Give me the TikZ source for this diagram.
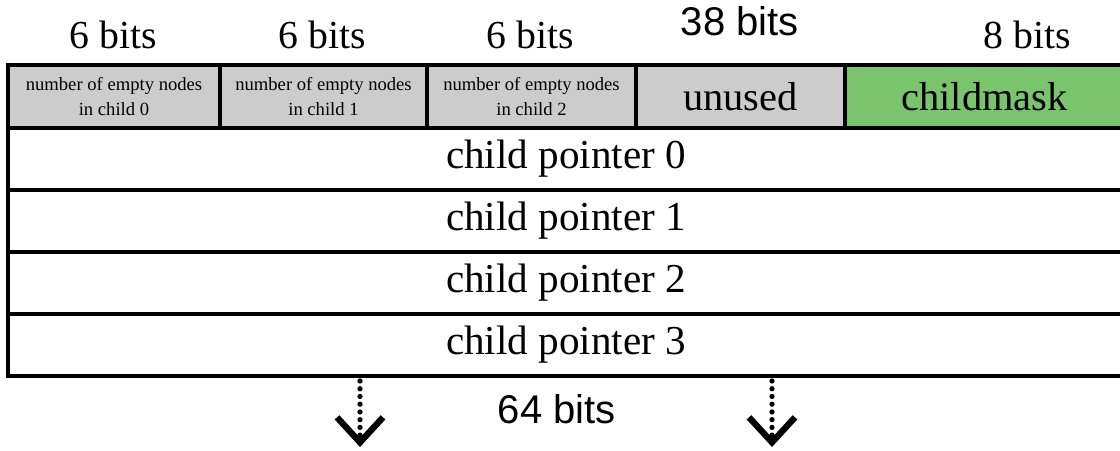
\documentclass[tikz,border=0pt]{standalone}
\usepackage{fontspec}
\setmainfont{Liberation Serif}
\newfontfamily\labelsans{Liberation Sans}
\usetikzlibrary{positioning, arrows.meta}

\definecolor{cellgray}{RGB}{204,204,204}
\definecolor{maskgreen}{RGB}{122,196,110}

\begin{document}
\begin{tikzpicture}[x=0.1mm, y=-0.1mm,
            hdrcell/.style = {shape=rectangle, draw, line width=1.1pt,
                fill=cellgray, inner sep=0pt, outer sep=0pt, align=center,
                minimum height=6.3mm, font=\fontsize{11.5}{13}\selectfont},
            smalltxt/.style = {font=\fontsize{5.3}{7.2}\selectfont},
            ptrrow/.style = {shape=rectangle, draw, line width=1.1pt,
                inner sep=0pt, outer sep=0pt, minimum width=111.6mm,
                minimum height=6.2mm, font=\fontsize{11.7}{14}\selectfont},
            bitlabel/.style = {inner sep=0pt, anchor=base,
                font=\fontsize{11.3}{13}\selectfont},
            sanslabel/.style = {inner sep=0pt, anchor=base,
                font=\labelsans\fontsize{11.4}{13}\selectfont},
            dotarrow/.style = {line width=1.5pt, line cap=round,
                dash pattern=on 0pt off 2.2pt,
                -{Straight Barb[length=2.5mm, width=4.6mm, line width=1.8pt,
                  line cap=butt]}}]

            \useasboundingbox (0,0) rectangle (1120,450);
            \clip (0,0) rectangle (1120,450);

            % header fields
            \node[hdrcell, smalltxt, minimum width=21.2mm, anchor=north west]
                (cnt0) at (8,65) {number of empty nodes\\in child 0};
            \node[hdrcell, smalltxt, minimum width=20.7mm, right=0pt of cnt0]
                (cnt1) {number of empty nodes\\in child 1};
            \node[hdrcell, smalltxt, minimum width=20.9mm, right=0pt of cnt1]
                (cnt2) {number of empty nodes\\in child 2};
            \node[hdrcell, minimum width=20.9mm, right=0pt of cnt2]
                (unused) {unused};
            \node[hdrcell, fill=maskgreen, minimum width=27.9mm, right=0pt of unused]
                (mask) {childmask};

            % child pointers
            \node[ptrrow, anchor=north west] (ptr0) at (8,128) {child pointer 0};
            \node[ptrrow, below=0pt of ptr0] (ptr1) {child pointer 1};
            \node[ptrrow, below=0pt of ptr1] (ptr2) {child pointer 2};
            \node[ptrrow, below=0pt of ptr2] (ptr3) {child pointer 3};

            % bit widths
            \node[bitlabel] (bits0) at (113,48) {6 bits};
            \node[bitlabel] (bits1) at (322,48) {6 bits};
            \node[bitlabel] (bits2) at (530,48) {6 bits};
            \node[sanslabel] (bits3) at (740,35) {38 bits};
            \node[bitlabel] (bits4) at (1027,48) {8 bits};
            \node[sanslabel] (bits64) at (557,423) {64 bits};

            % arrows below
            \coordinate (arrL) at (360,381);
            \coordinate (arrLend) at (360,447);
            \coordinate (arrR) at (772,381);
            \coordinate (arrRend) at (772,447);
            \draw[dotarrow] (arrL) -- (arrLend);
            \draw[dotarrow] (arrR) -- (arrRend);

        \end{tikzpicture}
\end{document}
